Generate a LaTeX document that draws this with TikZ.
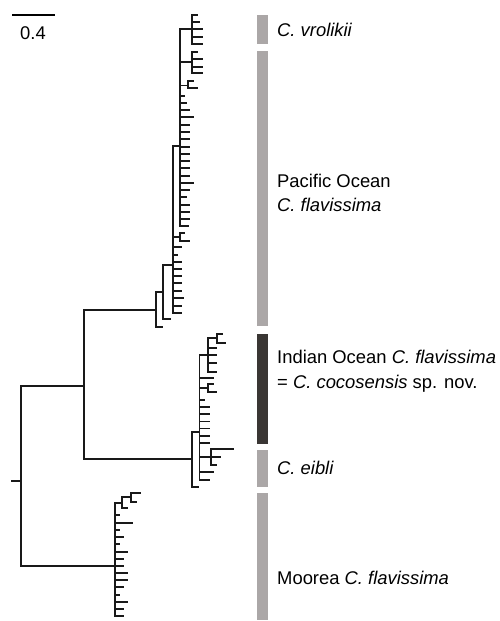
\documentclass[tikz,border=0pt]{standalone}
\usepackage{fontspec}
\setmainfont{Liberation Sans}
\definecolor{barlight}{RGB}{171,167,167}
\definecolor{bardark}{RGB}{58,54,52}
\newcommand\mkleaves[2]{\foreach \lfy/\lfx in {#2}{\draw[treeline] (#1,\lfy) -- (\lfx,\lfy);}}
\begin{document}
\begin{tikzpicture}[x=1pt,y=-1pt,
  treeline/.style={line width=1.7pt, line cap=rect, draw=black!90},
  lbl/.style={anchor=base west, inner sep=0pt, font=\fontsize{18.4}{22}\selectfont},
  scalebar/.style={line width=2.6pt, draw=black}]
\useasboundingbox (0,0) rectangle (499,621);

% scale bar
\coordinate (sb1) at (12,15);
\coordinate (sb2) at (55,15);
\draw[scalebar] (sb1) -- (sb2);
\node[lbl] (scl) at (20,39) {0.4};

% root
\draw[treeline] (12,481) -- (21,481);
\draw[treeline] (84,386) -| (21,566) -- (115,566);

% upper clade (E)
\draw[treeline] (156,310) -| (84,459) -- (192,459);
% D
\draw[treeline] (163,292) -| (156,327) -- (162,327);
% C
\draw[treeline] (173,265) -| (163,319) -- (170,319);
% A
\draw[treeline] (180,146) -| (173,313);
\mkleaves{173}{247/181,255/177,262/181,269/181,276/181,283/181,291/181,298/183,306/181,313/181}
\draw[treeline] (173,237) -- (180,237);
\draw[treeline] (180,233) -- (180,241);
\mkleaves{180}{233/184,241/189}
% B
\draw[treeline] (180,29) -- (180,226);
\mkleaves{180}{96/184,103/186,110/189,117.3/193,124.7/189,132/189,139.3/189,146.7/189,154/189,161/189,168.3/189,175.7/189,182.7/193,190/189,197.3/186,204.7/189,211.7/189,219/189,226/188}
% B subclades
\draw[treeline] (180,29) -- (192,29);
\draw[treeline] (192,15) -- (192,44);
\mkleaves{192}{15/197,22/199,29/202,36.7/202,44/202}
\draw[treeline] (180,62) -- (192,62);
\draw[treeline] (192,52) -- (192,73);
\mkleaves{192}{52/197,59.3/202,66.7/202,73/202}
\draw[treeline] (180,85.5) -- (188,85.5);
\draw[treeline] (188,81) -- (188,88);
\mkleaves{188}{81/193,88/197}

% Indian clade F
\draw[treeline] (199.5,432) -| (192,487) -- (198,487);
% G
\draw[treeline] (199.5,355) -- (199.5,480);
\draw[treeline] (199.5,355) -- (208,355);
\draw[treeline] (208,338) -- (208,372);
\mkleaves{208}{348/216,355/216,363/216,372/216}
\draw[treeline] (208,338) -- (217,338);
\draw[treeline] (217,334) -- (217,343);
\mkleaves{217}{334/222,343/225}
\mkleaves{199.5}{378/213,400/204,407/209,414/209,421.5/209,428.5/209,436/209,443/209,472/213,480/209}
\draw[treeline] (199.5,388) -- (208,388);
\draw[treeline] (208,384) -- (208,392);
\mkleaves{208}{384/213,392/216}
\draw[treeline] (199.5,457) -- (211,457);
\draw[treeline] (211,449) -- (211,465);
\mkleaves{211}{449/233,457/220,465/216}

% Moorea clade M
\draw[treeline] (115,503) -- (115,616);
\mkleaves{115}{515/119,522.7/132,530/119,537.3/123,544.3/119,551.7/127,559/123,566/123,573.3/127,580/127,587.3/123,595/119,602.3/127,609/123,616/123}
\draw[treeline] (131,497) -| (122,508) -- (127,508);
\draw[treeline] (115,503) -- (122,503);
\draw[treeline] (131,493) -- (131,502);
\mkleaves{131}{493/140,502/136}

% bars
\fill[barlight] (257,15) rectangle (268,44);
\fill[barlight] (257,51) rectangle (268,326);
\fill[bardark] (257,334) rectangle (268,444);
\fill[barlight] (257,450) rectangle (268,487);
\fill[barlight] (257,493) rectangle (268,620);

% labels
\node[lbl] (vro) at (277,36) {\textit{C. vrolikii}};
\node[lbl] (pac1) at (277,187) {Pacific Ocean};
\node[lbl] (pac2) at (277,211) {\textit{C. flavissima}};
\node[lbl] (ind1) at (277,363) {Indian Ocean \textit{C. flavissima}};
\node[lbl] (ind2) at (277,388) {= \textit{C. cocosensis} sp. nov.};
\node[lbl] (eib) at (277,474) {\textit{C. eibli}};
\node[lbl] (moo) at (277,584) {Moorea \textit{C. flavissima}};
\end{tikzpicture}
\end{document}
